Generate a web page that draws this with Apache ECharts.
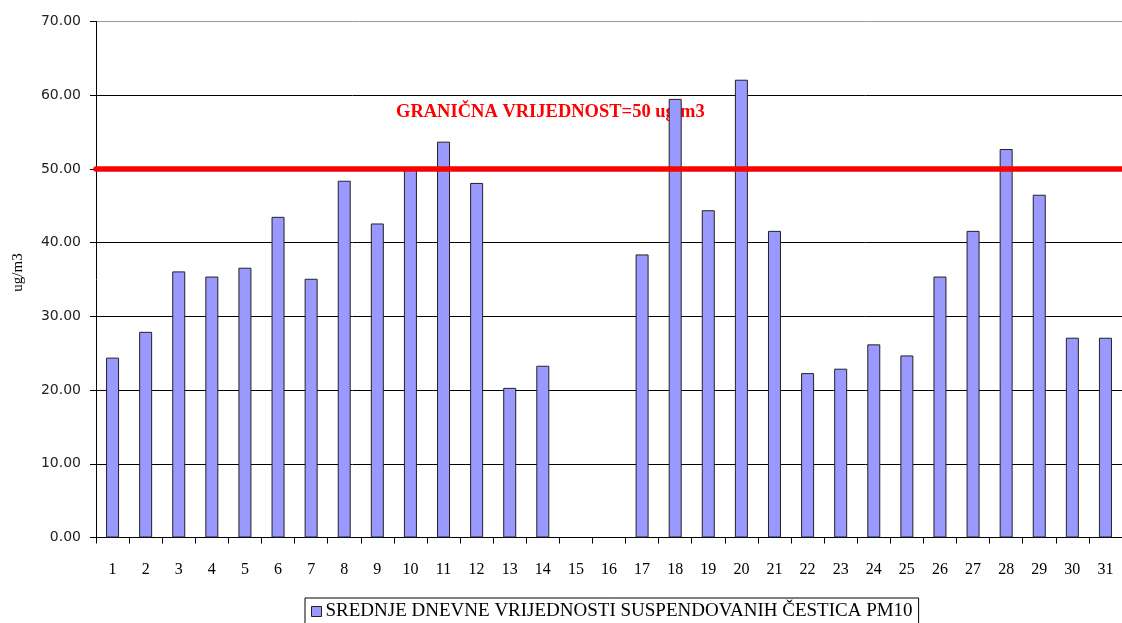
<!DOCTYPE html>
<html>
<head>
<meta charset="utf-8">
<script src="https://cdn.jsdelivr.net/npm/echarts@6/dist/echarts.min.js"></script>
<style>
  html, body { margin: 0; padding: 0; background: #fff; }
  #chart { width: 1122px; height: 623px; }
</style>
</head>
<body>
<div id="chart"></div>
<script>
  // dani u mjesecu
  var days = ['1', '2', '3', '4', '5', '6', '7', '8', '9', '10', '11', '12', '13', '14', '15', '16',
    '17', '18', '19', '20', '21', '22', '23', '24', '25', '26', '27', '28', '29', '30', '31'];
  // srednje dnevne vrijednosti PM10 (15. i 16. bez podataka)
  var pm10 = [24.4, 27.9, 36.1, 35.4, 36.6, 43.5, 35.1, 48.4, 42.6, 50.0, 53.7, 48.1, 20.3, 23.3, null, null,
    38.4, 59.5, 44.4, 62.1, 41.6, 22.3, 22.9, 26.2, 24.7, 35.4, 41.6, 52.7, 46.5, 27.1, 27.1];
  var limitValue = 50;
  var limitText = 'GRANIČNA VRIJEDNOST=50 ug/m3';
  var seriesName = 'SREDNJE DNEVNE VRIJEDNOSTI SUSPENDOVANIH ČESTICA PM10';
  var yTicks = { min: 0, max: 70, interval: 10 };

  var chart = echarts.init(document.getElementById('chart'), null, { renderer: 'canvas' });

  var option = {
    animation: false,
    backgroundColor: '#fff',
    grid: { left: 96, top: 21.5, width: 1036, height: 516 },
    legend: {
      left: 305,
      top: 598,
      padding: [4, 6, 12, 6],
      borderColor: '#000',
      borderWidth: 1,
      itemWidth: 10,
      itemHeight: 10,
      itemGap: 4,
      icon: 'rect',
      itemStyle: { borderColor: '#222', borderWidth: 1 },
      textStyle: { fontFamily: 'Liberation Serif', fontSize: 19, color: '#000', padding: [0, 0, 0, -1] },
      data: [seriesName]
    },
    xAxis: {
      type: 'category',
      data: days,
      boundaryGap: true,
      axisLine: { lineStyle: { color: '#000', width: 1 } },
      axisTick: { show: true, length: 6, lineStyle: { color: '#000' } },
      axisLabel: {
        interval: 0,
        margin: 24,
        fontFamily: 'Liberation Serif',
        fontSize: 16,
        color: '#000'
      },
      splitLine: { show: false }
    },
    yAxis: {
      type: 'value',
      min: yTicks.min,
      max: yTicks.max,
      interval: yTicks.interval,
      name: 'ug/m3',
      nameLocation: 'middle',
      nameGap: 70,
      nameTextStyle: { fontFamily: 'Liberation Serif', fontSize: 15, color: '#000', padding: [0, 0, 0, 14] },
      axisLine: { show: true, lineStyle: { color: '#000', width: 1 } },
      axisTick: { show: true, length: 6, lineStyle: { color: '#000' } },
      axisLabel: {
        margin: 15,
        fontFamily: 'DejaVu Sans',
        fontSize: 14,
        color: '#222',
        formatter: function (v) { return v.toFixed(2); }
      },
      splitLine: {
        show: true,
        lineStyle: {
          color: ['#000', '#000', '#000', '#000', '#000', '#000', '#000', '#999'],
          width: 1
        }
      }
    },
    series: [{
      name: seriesName,
      type: 'bar',
      data: pm10,
      barWidth: 13,
      itemStyle: { color: '#9999ff', borderColor: '#222', borderWidth: 1 },
      markLine: {
        silent: true,
        symbol: ['none', 'none'],
        lineStyle: { color: '#ff0000', width: 5.5, type: 'solid', cap: 'round' },
        label: { show: false },
        data: [{ yAxis: limitValue }]
      }
    }],
    graphic: [{
      type: 'text',
      left: 396,
      top: 103,
      style: {
        text: limitText,
        fill: '#ff0000',
        font: 'bold 18.5px "Liberation Serif"'
      }
    }]
  };

  chart.setOption(option);
</script>
</body>
</html>
